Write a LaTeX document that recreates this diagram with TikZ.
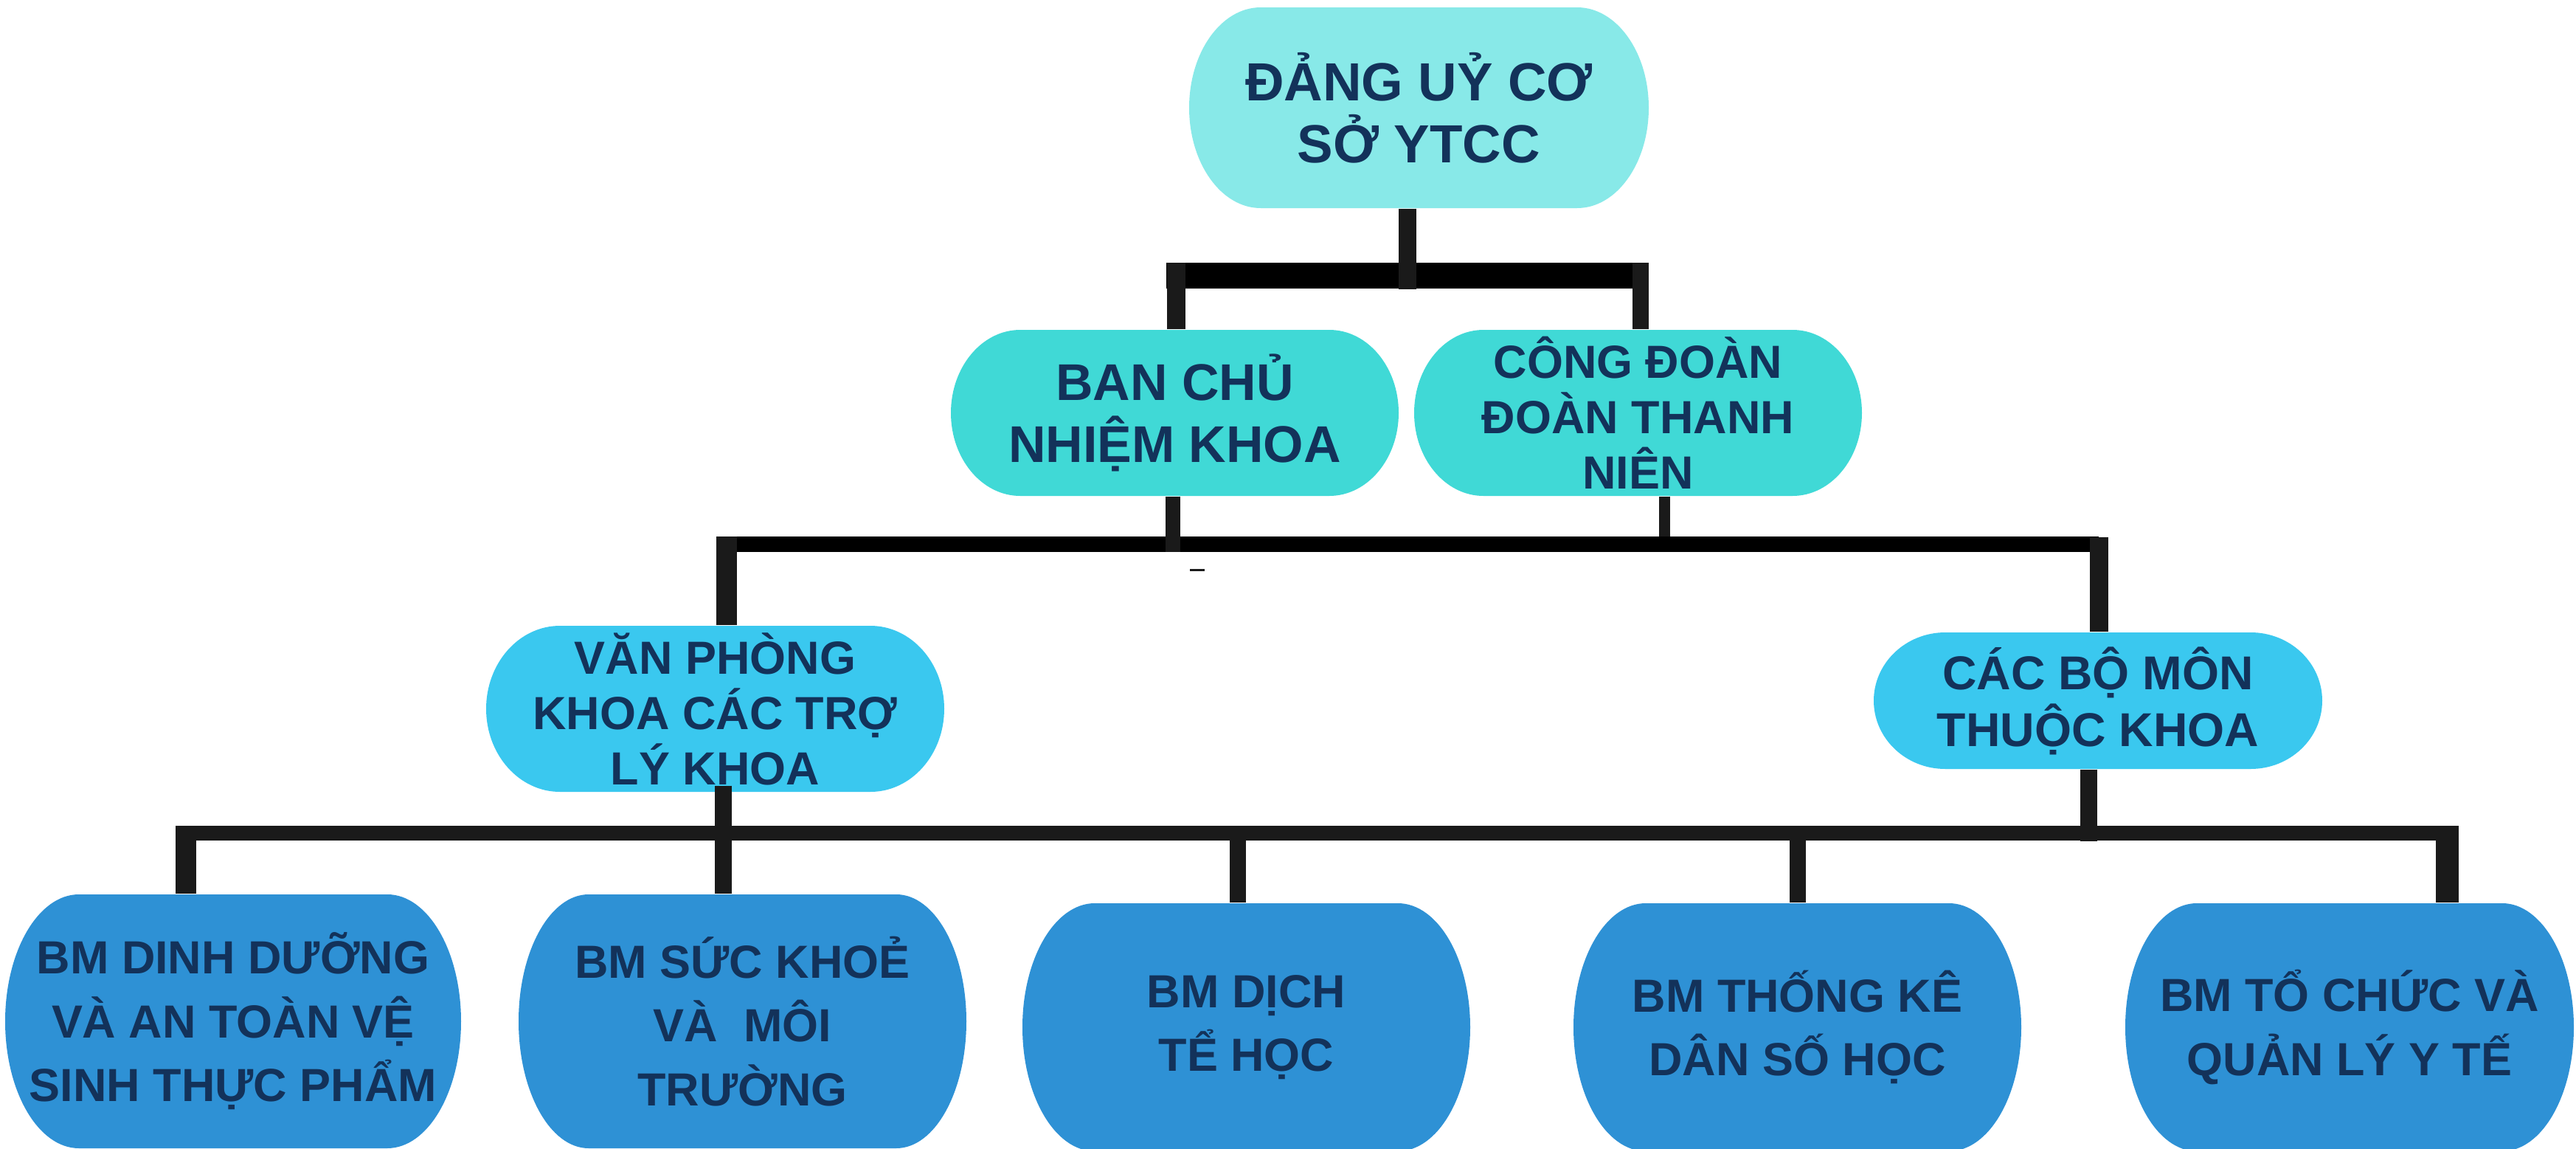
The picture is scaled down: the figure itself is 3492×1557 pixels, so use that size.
\documentclass[tikz,border=0pt]{standalone}
\usepackage{fontspec}
\setmainfont{Liberation Sans}
\definecolor{txt}{HTML}{13325A}
\definecolor{cA}{HTML}{88E9E8}
\definecolor{cB}{HTML}{40D9D6}
\definecolor{cD}{HTML}{3AC8EF}
\definecolor{cF}{HTML}{2E91D5}
\definecolor{ln}{HTML}{1A1A1A}
% #1 name, #2 x0, #3 y0, #4 x1, #5 y1, #6 rx, #7 fill, #8 text style, #9 text
\newcommand\barrelbox[9]{%
  \pgfmathsetmacro\bhh{(#5-#3)/2}%
  \fill[#7] (#2+#6,#3) -- (#4-#6,#3)
     arc[start angle=90,end angle=-90,x radius=#6*0.01cm,y radius=\bhh*0.01cm]
     -- (#2+#6,#5)
     arc[start angle=270,end angle=90,x radius=#6*0.01cm,y radius=\bhh*0.01cm]
     -- cycle;
  \node[#8, minimum width={(#4-#2)*0.01cm}, minimum height={(#5-#3)*0.01cm}] (#1)
     at ({(#2+#4)/2},{(#3+#5)/2}) {#9};
}
\tikzset{
  boxtext/.style={align=center, text=txt, inner sep=0pt},
  tA/.style={boxtext, font=\bfseries\fontsize{20.7}{23.9}\selectfont},
  tB/.style={boxtext, font=\bfseries\fontsize{19.9}{23.9}\selectfont},
  tC/.style={boxtext, font=\bfseries\fontsize{17.9}{21.3}\selectfont},
  tE/.style={boxtext, font=\bfseries\fontsize{18.3}{21.9}\selectfont},
  tF/.style={boxtext, font=\bfseries\fontsize{17.9}{24.6}\selectfont},
  bar/.style={draw=black, line cap=butt},
  drop/.style={draw=ln, line cap=butt},
}
\begin{document}
\begin{tikzpicture}[x=0.01cm,y=-0.01cm]
\useasboundingbox (0,0) rectangle (3492,1557);
% boxes
\barrelbox{A}{1612}{10}{2235}{282}{97}{cA}{tA}{ĐẢNG UỶ CƠ\\SỞ YTCC}
\barrelbox{B}{1289}{447}{1896}{672}{94}{cB}{tB}{BAN CHỦ\\NHIỆM KHOA}
\barrelbox{C}{1917}{447}{2524}{672}{94}{cB}{tC}{CÔNG ĐOÀN\\ĐOÀN THANH\\NIÊN}
\barrelbox{D}{659}{848}{1280}{1073}{100}{cD}{tC}{VĂN PHÒNG\\KHOA CÁC TRỢ\\LÝ KHOA}
\barrelbox{E}{2540}{857}{3148}{1042}{97}{cD}{tE}{CÁC BỘ MÔN\\THUỘC KHOA}
\barrelbox{F1}{7}{1212}{625}{1556}{100}{cF}{tF}{BM DINH DƯỠNG\\VÀ AN TOÀN VỆ\\SINH THỰC PHẨM}
\barrelbox{F2}{703}{1212}{1310}{1556}{95}{cF}{tF}{BM SỨC KHOẺ\\VÀ\ \ MÔI\\TRƯỜNG}
\barrelbox{F3}{1386}{1224}{1993}{1560}{98}{cF}{tF}{BM DỊCH\\TỂ HỌC}
\barrelbox{F4}{2133}{1224}{2740}{1560}{98}{cF}{tF}{BM THỐNG KÊ\\DÂN SỐ HỌC}
\barrelbox{F5}{2881}{1224}{3489}{1560}{97}{cF}{tF}{BM TỔ CHỨC VÀ\\QUẢN LÝ Y TẾ}
% junction coordinates
\coordinate (bar1L) at (1581,373.5);
\coordinate (bar1R) at (2235,373.5);
\coordinate (tA) at (1908,373.5);
\coordinate (tB) at (1594,356);
\coordinate (tC) at (2224,356);
\coordinate (bar2L) at (972,737.5);
\coordinate (bar2R) at (2845,737.5);
\coordinate (bB) at (1590,748);
\coordinate (bC) at (2256,727);
\coordinate (tD) at (985,727);
\coordinate (tE) at (2845,728);
\coordinate (bar3L) at (238,1129);
\coordinate (bar3R) at (3332,1129);
\coordinate (dF) at (980,1129);
\coordinate (bE) at (2831,1140);
\coordinate (t1) at (252,1119);
\coordinate (t3) at (1678,1139);
\coordinate (t4) at (2437,1139);
\coordinate (t5) at (3317,1119);
% bars
\draw[bar, line width=0.35cm] (bar1L) -- (bar1R);
\draw[bar, line width=0.21cm] (bar2L) -- (bar2R);
\draw[drop, line width=0.20cm] (bar3L) -- (bar3R);
% level 1 connectors
\draw[drop, line width=0.24cm] (A.south -| tA) -- (tA) -- ++(0,18.5);
\draw[drop, line width=0.25cm] (tB) -- (tB |- B.north);
\draw[drop, line width=0.22cm] (tC) -- (tC |- C.north);
% level 2 connectors
\draw[drop, line width=0.20cm] (B.south -| bB) -- (bB);
\draw[drop, line width=0.15cm] (C.south -| bC) -- (bC);
\draw[drop, line width=0.27cm] (tD) -- (tD |- D.north);
\draw[drop, line width=0.25cm] (tE) -- (tE |- E.north);
\draw[drop, line width=0.03cm] (1613,772) -- (1633,772);
% level 3 connectors
\draw[drop, line width=0.23cm] ([yshift=0.09cm]D.south -| dF) -- (dF |- F2.north);
\draw[drop, line width=0.23cm] (E.south -| bE) -- (bE);
\draw[drop, line width=0.28cm] (t1) -- (t1 |- F1.north);
\draw[drop, line width=0.22cm] (t3) -- (t3 |- F3.north);
\draw[drop, line width=0.22cm] (t4) -- (t4 |- F4.north);
\draw[drop, line width=0.31cm] (t5) -- (t5 |- F5.north);
\end{tikzpicture}
\end{document}
